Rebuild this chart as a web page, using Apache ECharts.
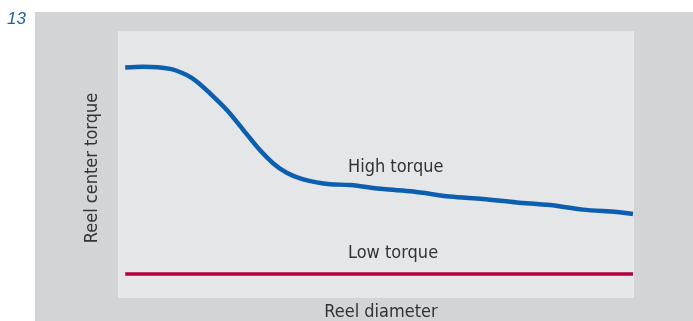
<!DOCTYPE html>
<html>
<head>
<meta charset="utf-8">
<script src="https://cdn.jsdelivr.net/npm/echarts@6/dist/echarts.min.js"></script>
<style>
  html, body { margin: 0; padding: 0; background: #ffffff; }
  #chart { width: 693px; height: 321px; }
</style>
</head>
<body>
<div id="chart"></div>
<script>
// Reel diameter (relative units, 0-100) and reel center torque (relative units, 0-100)
const highDiameter = [1.4, 4.9, 10.1, 13.3, 15.3, 17.8, 21.1, 24.3, 27.5, 30.1, 32.7, 35.3, 38.5, 41.1, 45.0, 51.4, 57.2, 64.3, 70.7, 77.3, 83.7, 90.1, 96.7, 99.8];
const highTorque   = [86.3, 86.6, 85.8, 83.5, 81.0, 76.7, 70.4, 62.9, 55.4, 50.4, 46.9, 44.8, 43.3, 42.6, 42.3, 40.8, 39.9, 38.0, 37.1, 35.8, 34.8, 33.1, 32.2, 31.5];
const lowDiameter  = [1.4, 99.8];
const lowTorque    = [9.0, 9.0];

const seriesNames = ['High torque', 'Low torque'];
const axisTitles = { x: 'Reel diameter', y: 'Reel center torque' };
const figureNumber = '13';

const FONT = '"Liberation Sans Narrow", "DejaVu Sans Condensed", "Liberation Sans", sans-serif';

const pairs = (xs, ys) => xs.map((x, i) => [x, ys[i]]);

const chart = echarts.init(document.getElementById('chart'), null, { renderer: 'canvas' });

chart.setOption({
  animation: false,
  backgroundColor: '#ffffff',
  grid: {
    left: 118, top: 31, width: 516, height: 267,
    show: true, backgroundColor: '#e5e6e8', borderWidth: 0, z: 1
  },
  xAxis: {
    type: 'value', min: 0, max: 100,
    axisLine: { show: false }, axisTick: { show: false },
    axisLabel: { show: false }, splitLine: { show: false }
  },
  yAxis: {
    type: 'value', min: 0, max: 100,
    axisLine: { show: false }, axisTick: { show: false },
    axisLabel: { show: false }, splitLine: { show: false }
  },
  graphic: [
    // outer panel behind the plot area
    { type: 'rect', z: -10, shape: { x: 35, y: 12, width: 658, height: 309 }, style: { fill: '#d3d4d6' }, silent: true },
    { type: 'text', x: 7, y: 11, style: { text: figureNumber, fill: '#2160a8', font: 'italic 17px "Liberation Sans", Arial, sans-serif' } },
    { type: 'text', x: 92, y: 168, rotation: Math.PI / 2,
      style: { text: axisTitles.y, fill: '#333333', font: '18px ' + FONT, align: 'center', verticalAlign: 'middle' } },
    { type: 'text', x: 381, y: 303,
      style: { text: axisTitles.x, fill: '#333333', font: '18px ' + FONT, align: 'center', verticalAlign: 'top' } },
    { type: 'text', x: 348, y: 158, z: 10,
      style: { text: seriesNames[0], fill: '#333333', font: '18px ' + FONT } },
    { type: 'text', x: 348, y: 244, z: 10,
      style: { text: seriesNames[1], fill: '#333333', font: '18px ' + FONT } }
  ],
  series: [
    {
      name: seriesNames[0], type: 'line', data: pairs(highDiameter, highTorque),
      smooth: 0.3, symbol: 'none', z: 5,
      lineStyle: { color: '#0b5fae', width: 4.5, cap: 'butt' }
    },
    {
      name: seriesNames[1], type: 'line', data: pairs(lowDiameter, lowTorque),
      symbol: 'none', z: 5,
      lineStyle: { color: '#b3003f', width: 3.5, cap: 'butt' }
    }
  ]
});
</script>
</body>
</html>
